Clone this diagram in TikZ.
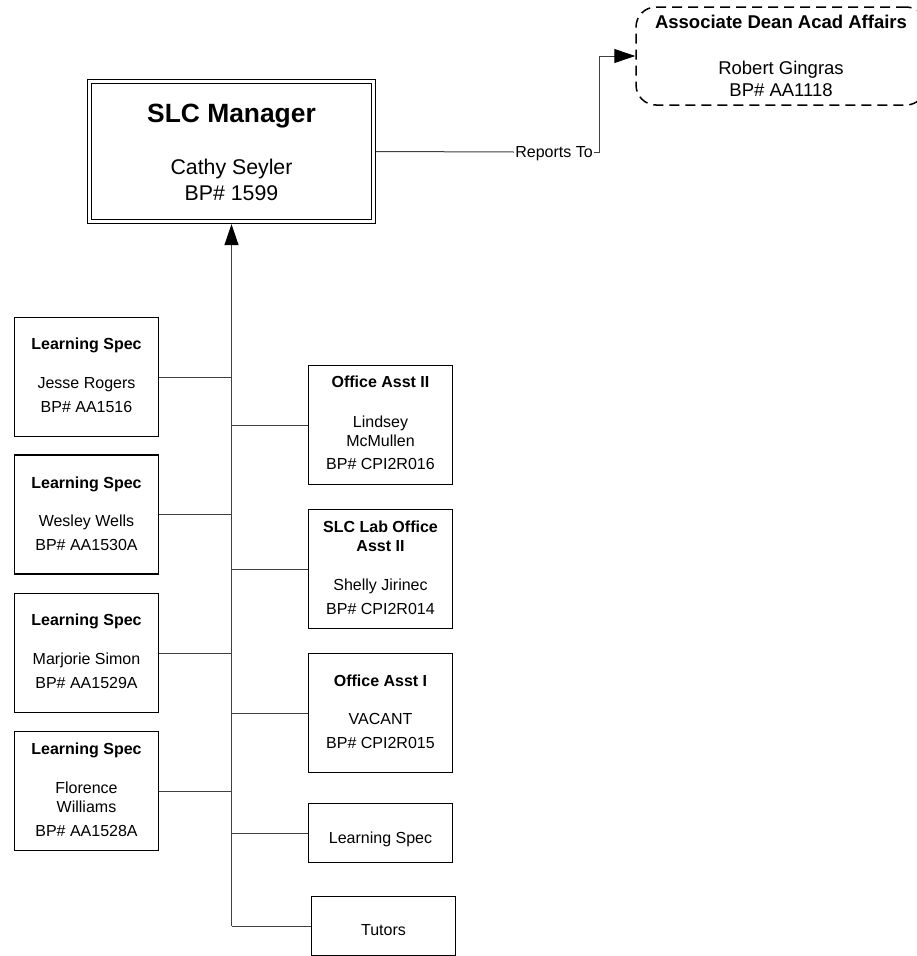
\documentclass[tikz,border=0pt]{standalone}
\usepackage{fontspec}
\setmainfont{Liberation Sans}
\usetikzlibrary{arrows.meta}
\begin{document}
\begin{tikzpicture}[x=1pt,y=-1pt,
  box/.style={draw=black, line width=1.5pt, inner sep=0pt, minimum width=144pt, minimum height=119pt},
  t/.style={inner sep=0pt, text height=11.5pt, text depth=0pt, font=\fontsize{16}{19}\selectfont},
  tb/.style={t, font=\fontsize{16}{19}\selectfont\bfseries},
  conn/.style={draw=black!75, line width=1pt},
  arr/.style={conn, -{Triangle[length=21pt,width=14pt,color=black,fill=black]}}]
\useasboundingbox (0,0) rectangle (916,956);

% Manager
\node[draw=black, double=white, double distance=2.6pt, line width=1.3pt, inner sep=0pt, outer sep=2.6pt,
      minimum width=284pt, minimum height=140pt] (mgr) at (231.5,151.5) {};
\node[inner sep=0pt, text height=18.9pt, text depth=0pt, font=\fontsize{26.4}{30}\selectfont\bfseries] (mgrT) at (231.5,113) {SLC Manager};
\node[inner sep=0pt, text height=15.3pt, text depth=0pt, font=\fontsize{21.3}{25}\selectfont] (mgrN) at (231.5,166.7) {Cathy Seyler};
\node[inner sep=0pt, text height=15.3pt, text depth=0pt, font=\fontsize{21.3}{25}\selectfont] (mgrB) at (231.5,193.3) {BP\# 1599};

% Dean
\node[draw=black, line width=1.5pt, dash pattern=on 10pt off 6pt, rounded corners=20pt, inner sep=0pt,
      minimum width=290pt, minimum height=98pt] (dean) at (781,56) {};
\node[inner sep=0pt, text height=13.2pt, text depth=0pt, font=\fontsize{18.5}{22}\selectfont\bfseries] (deanT) at (781,22) {Associate Dean Acad Affairs};
\node[inner sep=0pt, text height=13.2pt, text depth=0pt, font=\fontsize{18.5}{22}\selectfont] (deanN) at (781,68) {Robert Gingras};
\node[inner sep=0pt, text height=13.2pt, text depth=0pt, font=\fontsize{18.5}{22}\selectfont] (deanB) at (781,90) {BP\# AA1118};

% Reports To
\node[t, fill=white, inner sep=1pt] (rt) at (554,152) {Reports To};
\draw[conn] (mgr.east) -- (rt.west);
\draw[arr] (rt.east) -- ++(6,0) |- (dean.west);

% Left boxes
\node[box] (l1) at (86.5,377) {};
\node[tb] (l1a) at (86.5,344) {Learning Spec};
\node[t] (l1b) at (86.5,382.7) {Jesse Rogers};
\node[t] (l1c) at (86.5,406.7) {BP\# AA1516};

\node[box] (l2) at (86.5,514.5) {};
\node[tb] (l2a) at (86.5,482.7) {Learning Spec};
\node[t] (l2b) at (86.5,520.7) {Wesley Wells};
\node[t] (l2c) at (86.5,545) {BP\# AA1530A};

\node[box] (l3) at (86.5,653) {};
\node[tb] (l3a) at (86.5,620) {Learning Spec};
\node[t] (l3b) at (86.5,659) {Marjorie Simon};
\node[t] (l3c) at (86.5,682.7) {BP\# AA1529A};

\node[box] (l4) at (86.5,791) {};
\node[tb] (l4a) at (86.5,748.3) {Learning Spec};
\node[t] (l4b) at (86.5,787.7) {Florence};
\node[t] (l4c) at (86.5,806.7) {Williams};
\node[t] (l4d) at (86.5,830.7) {BP\# AA1528A};

% Right boxes
\node[box] (r1) at (380.5,425) {};
\node[tb] (r1a) at (380.5,382) {Office Asst II};
\node[t] (r1b) at (380.5,421.7) {Lindsey};
\node[t] (r1c) at (380.5,440.7) {McMullen};
\node[t] (r1d) at (380.5,464) {BP\# CPI2R016};

\node[box] (r2) at (380.5,569) {};
\node[tb] (r2a) at (380.5,526.7) {SLC Lab Office};
\node[tb] (r2b) at (380.5,545.7) {Asst II};
\node[t] (r2c) at (380.5,584.3) {Shelly Jirinec};
\node[t] (r2d) at (380.5,608.3) {BP\# CPI2R014};

\node[box] (r3) at (380.5,713) {};
\node[tb] (r3a) at (380.5,680.7) {Office Asst I};
\node[t] (r3b) at (380.5,718.3) {VACANT};
\node[t] (r3c) at (380.5,742.3) {BP\# CPI2R015};

\node[box, minimum height=59pt] (r4) at (380.5,833) {};
\node[t] (r4a) at (380.5,837.7) {Learning Spec};

\node[box, minimum height=59pt] (r5) at (383.5,926) {};
\node[t] (r5a) at (383.5,930) {Tutors};

% Trunk
\coordinate (tb) at (mgr.south |- r5.west);
\draw[arr] (tb) -- (mgr.south);
\foreach \n in {l1,l2,l3,l4} \draw[conn] (\n.east) -- (\n.east -| mgr.south);
\foreach \n in {r1,r2,r3,r4,r5} \draw[conn] (\n.west) -- (\n.west -| mgr.south);
\end{tikzpicture}
\end{document}
